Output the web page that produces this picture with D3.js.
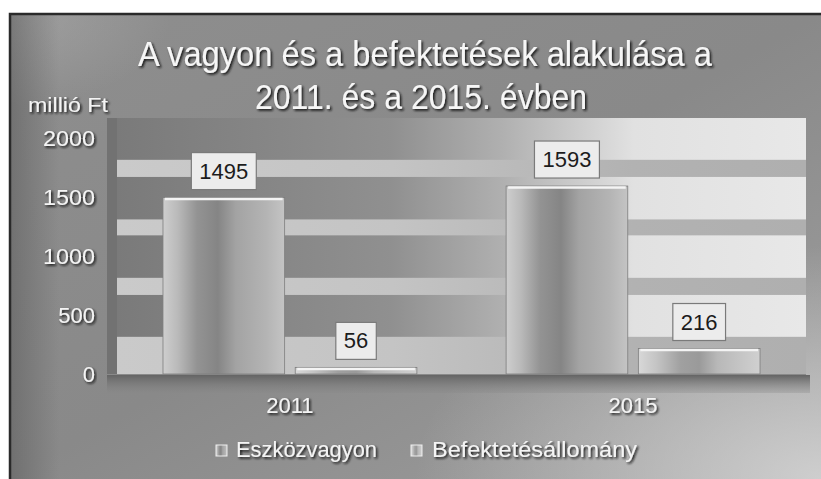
<!DOCTYPE html>
<html><head><meta charset="utf-8">
<script src="https://cdn.jsdelivr.net/npm/d3@7"></script>
<style>body{margin:0;background:#fff}svg{display:block}text{font-family:"Liberation Sans",Arial,sans-serif}</style>
</head><body><svg id="c" width="821" height="479"></svg>
<script>
// ---- data ----
const titleLines = ["A vagyon és a befektetések alakulása a", "2011. és a 2015. évben"];
const unitLabel = "millió Ft";
const categories = ["2011", "2015"];
const seriesNames = ["Eszközvagyon", "Befektetésállomány"];
const eszkozvagyon = [1495, 1593];
const befektetesAllomany = [56, 216];
const yTicks = [0, 500, 1000, 1500, 2000];
const stripeBands = [[0, 315], [670, 815], [1175, 1310], [1670, 1815]];

// ---- layout ----
const W = 821, H = 479;
const plot = {left: 117, right: 806, zero: 374, top2000: 138, wallTop: 118};
const svg = d3.select("#c");
const defs = svg.append("defs");

function lin(id, stops, x2 = 1, y2 = 0) {
  const g = defs.append("linearGradient").attr("id", id)
    .attr("x1", 0).attr("y1", 0).attr("x2", x2).attr("y2", y2);
  stops.forEach(s => g.append("stop").attr("offset", s[0]).attr("stop-color", s[1]).attr("stop-opacity", s[2] == null ? 1 : s[2]));
}
lin("bg", [[0, "#8e8e8e"], [0.5, "#898989"], [1, "#a0a0a0"]], 1, 1);
const rg = defs.append("radialGradient").attr("id", "glowBR").attr("cx", 1).attr("cy", 1).attr("r", 0.5);
rg.append("stop").attr("offset", 0).attr("stop-color", "#d6d6d6").attr("stop-opacity", 0.85);
rg.append("stop").attr("offset", 1).attr("stop-color", "#d6d6d6").attr("stop-opacity", 0);
const rg2 = defs.append("radialGradient").attr("id", "glowTL").attr("cx", 0).attr("cy", 0).attr("r", 0.2);
rg2.append("stop").attr("offset", 0).attr("stop-color", "#acacac").attr("stop-opacity", 0.6);
rg2.append("stop").attr("offset", 1).attr("stop-color", "#acacac").attr("stop-opacity", 0);
lin("leftDark", [[0, "#5e5e5e", 0.6], [1, "#5e5e5e", 0]]);
lin("wallDark", [[0, "#7a7a7a"], [0.4, "#909090"], [0.56, "#b0b0b0"], [0.75, "#e1e1e1"], [1, "#e8e8e8"]]);
lin("wallStripe", [[0, "#cacaca"], [0.4, "#c4c4c4"], [0.56, "#bbbbbb"], [0.75, "#b2b2b2"], [1, "#afafaf"]]);
lin("floor", [[0, "#646464"], [1, "#888888", 0.3]], 0, 1);
lin("bar0", [[0, "#cecece"], [0.12, "#bababa"], [0.28, "#939393"], [0.45, "#858585"], [0.6, "#a3a3a3"], [0.85, "#b4b4b4"], [1, "#c4c4c4"]]);
lin("bar1", [[0, "#d8d8d8"], [0.15, "#c4c4c4"], [0.35, "#a0a0a0"], [0.5, "#9a9a9a"], [0.65, "#b8b8b8"], [1, "#d0d0d0"]]);
const sh = defs.append("filter").attr("id", "shadow").attr("x", -0.1).attr("y", -0.3).attr("width", 1.2).attr("height", 1.6);
sh.append("feDropShadow").attr("dx", 1.6).attr("dy", 1.6).attr("stdDeviation", 0.9).attr("flood-color", "#151515").attr("flood-opacity", 1);

// background frame
svg.append("rect").attr("x", 9).attr("y", 13).attr("width", W - 9).attr("height", H - 13).attr("fill", "url(#bg)");
svg.append("rect").attr("x", 9).attr("y", 13).attr("width", W - 9).attr("height", H - 13).attr("fill", "url(#glowBR)");
svg.append("rect").attr("x", 9).attr("y", 13).attr("width", W - 9).attr("height", H - 13).attr("fill", "url(#glowTL)");
svg.append("rect").attr("x", 9).attr("y", 13).attr("width", 50).attr("height", H - 13).attr("fill", "url(#leftDark)");
svg.append("path").attr("d", `M10,${H}V14H${W}`).attr("fill", "none").attr("stroke", "#2a2a2a").attr("stroke-width", 2.5);

// scales
const y = d3.scaleLinear().domain([0, 2000]).range([plot.zero, plot.top2000]);
const x0 = d3.scaleBand().domain(categories).range([plot.left, plot.right]).paddingInner(0.26).paddingOuter(0.134);
const x1 = d3.scaleBand().domain(seriesNames).range([0, x0.bandwidth()]).paddingInner(0.08);
const wallTopVal = y.invert(plot.wallTop);

// wall
svg.append("rect").attr("x", plot.left - 10).attr("y", plot.wallTop).attr("width", 10).attr("height", plot.zero - plot.wallTop).attr("fill", "#727272");
svg.append("rect").attr("x", plot.left).attr("y", y(wallTopVal)).attr("width", plot.right - plot.left)
  .attr("height", y(0) - y(wallTopVal)).attr("fill", "url(#wallDark)");
svg.append("g").selectAll("rect").data(stripeBands).join("rect")
  .attr("x", plot.left).attr("width", plot.right - plot.left)
  .attr("y", d => y(d[1])).attr("height", d => y(d[0]) - y(d[1])).attr("fill", "url(#wallStripe)");
svg.append("rect").attr("x", plot.left - 10).attr("y", plot.zero + 1).attr("width", plot.right - plot.left + 14).attr("height", 18).attr("fill", "url(#floor)");
svg.append("line").attr("x1", plot.left).attr("x2", plot.right).attr("y1", plot.zero + 0.5).attr("y2", plot.zero + 0.5).attr("stroke", "#8a8a8a").attr("stroke-width", 1);

// bars
const seriesData = [eszkozvagyon, befektetesAllomany];
const barData = [];
categories.forEach((c, i) => seriesNames.forEach((s, j) => barData.push({cat: c, ser: s, si: j, v: seriesData[j][i]})));
const bars = svg.append("g").selectAll("g").data(barData).join("g");
bars.append("rect")
  .attr("x", d => x0(d.cat) + x1(d.ser)).attr("width", x1.bandwidth())
  .attr("y", d => y(d.v)).attr("height", d => y(0) - y(d.v))
  .attr("fill", d => `url(#bar${d.si})`).attr("stroke", "#7d7d7d").attr("stroke-width", 0.8);
bars.append("line")
  .attr("x1", d => x0(d.cat) + x1(d.ser) + 2).attr("x2", d => x0(d.cat) + x1(d.ser) + x1.bandwidth() - 2)
  .attr("y1", d => y(d.v) + 1.5).attr("y2", d => y(d.v) + 1.5)
  .attr("stroke", "#f4f4f4").attr("stroke-width", 2.5);

// value labels
bars.each(function (d) {
  const g = d3.select(this);
  const cx = x0(d.cat) + x1(d.ser) + x1.bandwidth() / 2;
  const bottom = y(d.v) - 8;
  const box = g.append("rect");
  const t = g.append("text").attr("x", cx).attr("y", bottom - 11).attr("text-anchor", "middle")
    .attr("font-size", 22).attr("fill", "#1c1c1c").text(d.v);
  const w = t.node().getComputedTextLength() + 16;
  box.attr("x", cx - w / 2).attr("y", bottom - 37).attr("width", w).attr("height", 37)
    .attr("fill", "#ececec").attr("stroke", "#7a7a7a").attr("stroke-width", 1.2);
});

// y axis
const yAxis = svg.append("g").attr("transform", "translate(100,0)")
  .call(d3.axisLeft(y).tickValues(yTicks).tickFormat(d3.format("d")).tickSize(0).tickPadding(5));
yAxis.select(".domain").remove();
yAxis.selectAll("text").attr("font-size", 22).attr("font-family", "'Liberation Sans',Arial,sans-serif")
  .attr("fill", "#f4f4f4").attr("filter", "url(#shadow)")
  .attr("textLength", 52).attr("lengthAdjust", "spacingAndGlyphs")
  .filter(d => d < 1000).attr("textLength", null);

svg.append("text").attr("x", 28).attr("y", 112).attr("font-size", 21).attr("fill", "#f4f4f4")
  .attr("filter", "url(#shadow)").attr("textLength", 80).attr("lengthAdjust", "spacingAndGlyphs").text(unitLabel);

// x axis
const xAxis = svg.append("g").attr("transform", `translate(0,${plot.zero + 23})`)
  .call(d3.axisBottom(x0).tickSize(0).tickPadding(0));
xAxis.select(".domain").remove();
xAxis.selectAll("text").attr("font-size", 22).attr("font-family", "'Liberation Sans',Arial,sans-serif")
  .attr("fill", "#f4f4f4").attr("filter", "url(#shadow)");

// title
const titleSpecs = [{cx: 425, y: 66, len: 574}, {cx: 421, y: 109, len: 332}];
svg.append("g").selectAll("text").data(titleLines).join("text")
  .attr("x", (d, i) => titleSpecs[i].cx).attr("y", (d, i) => titleSpecs[i].y)
  .attr("text-anchor", "middle").attr("font-size", 35).attr("fill", "#f6f6f6")
  .attr("textLength", (d, i) => titleSpecs[i].len).attr("lengthAdjust", "spacingAndGlyphs")
  .attr("filter", "url(#shadow)").text(d => d);

// legend
const legendSpecs = [{mx: 216, tx: 236, len: 141}, {mx: 411, tx: 432, len: 205}];
const lg = svg.append("g").selectAll("g").data(seriesNames).join("g");
lg.append("rect").attr("x", (d, i) => legendSpecs[i].mx).attr("y", 445).attr("width", 11).attr("height", 11)
  .attr("fill", (d, i) => `url(#bar${i})`).attr("stroke", "#eeeeee").attr("stroke-width", 1);
lg.append("text").attr("x", (d, i) => legendSpecs[i].tx).attr("y", 457).attr("font-size", 22)
  .attr("fill", "#f4f4f4").attr("filter", "url(#shadow)")
  .attr("textLength", (d, i) => legendSpecs[i].len).attr("lengthAdjust", "spacingAndGlyphs").text(d => d);
</script></body></html>
